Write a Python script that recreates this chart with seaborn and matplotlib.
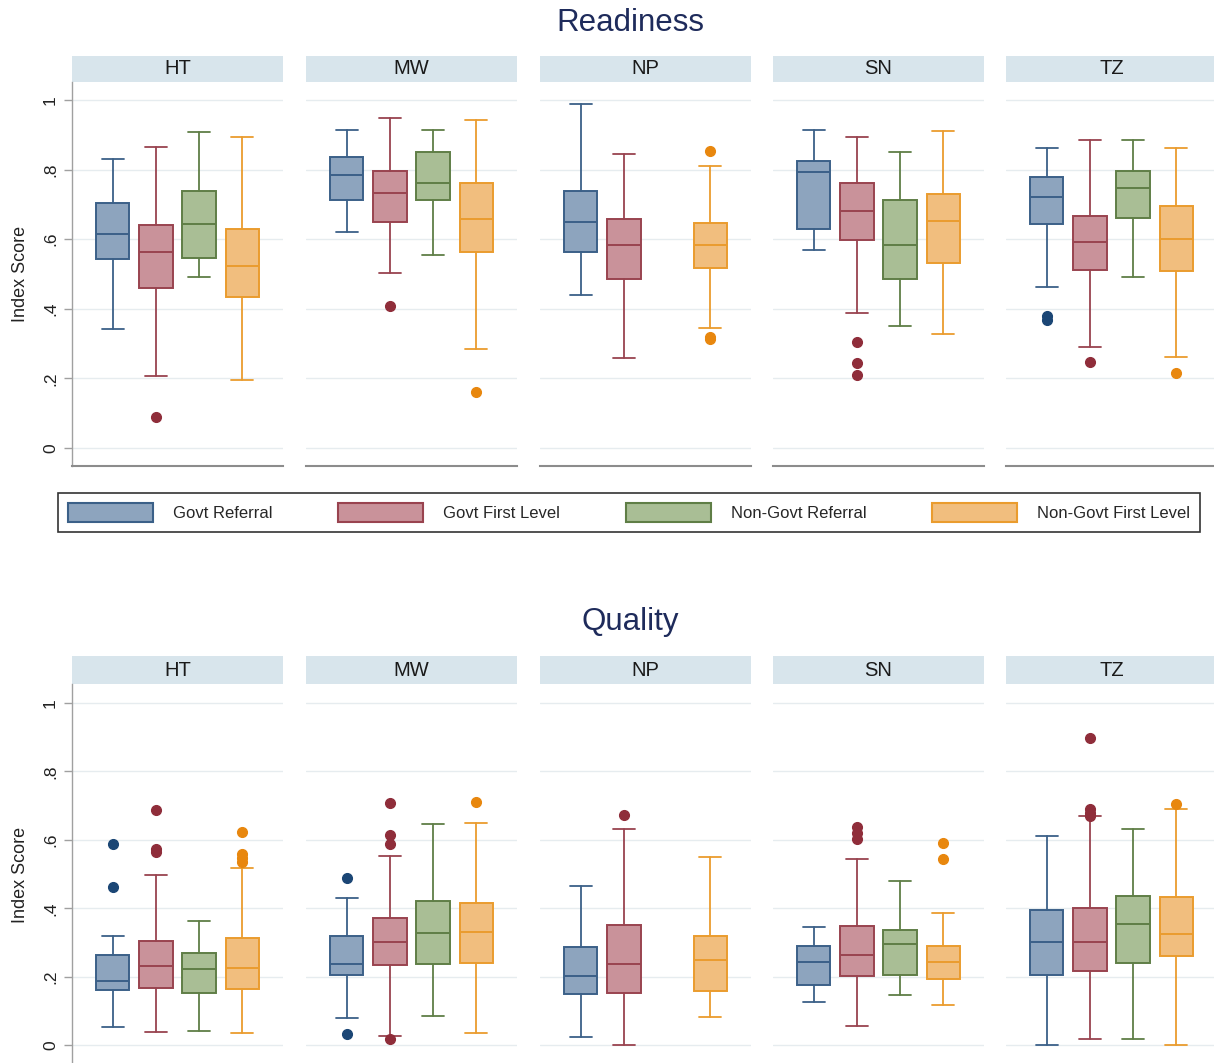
import matplotlib
matplotlib.use("Agg")
import matplotlib.pyplot as plt
import seaborn as sns
from matplotlib.patches import Rectangle, Patch

# ---------------------------------------------------------------- data
countries = ["HT", "MW", "NP", "SN", "TZ"]
groups = ["Govt Referral", "Govt First Level", "Non-Govt Referral", "Non-Govt First Level"]

# Readiness index: rows = countries, columns = facility groups (None = no facilities)
readiness_whislo = [[0.342, 0.208, 0.491, 0.194],
                    [0.622, 0.504, 0.555, 0.284],
                    [0.440, 0.258, None, 0.345],
                    [0.568, 0.388, 0.351, 0.327],
                    [0.462, 0.289, 0.492, 0.260]]
readiness_q1 = [[0.542, 0.461, 0.545, 0.434],
                [0.713, 0.649, 0.713, 0.564],
                [0.563, 0.487, None, 0.518],
                [0.629, 0.599, 0.485, 0.533],
                [0.644, 0.512, 0.662, 0.510]]
readiness_med = [[0.614, 0.562, 0.643, 0.523],
                 [0.786, 0.732, 0.761, 0.657],
                 [0.650, 0.583, None, 0.584],
                 [0.792, 0.682, 0.582, 0.653],
                 [0.722, 0.593, 0.748, 0.601]]
readiness_q3 = [[0.705, 0.640, 0.740, 0.628],
                [0.837, 0.796, 0.850, 0.761],
                [0.738, 0.659, None, 0.647],
                [0.824, 0.763, 0.713, 0.729],
                [0.779, 0.667, 0.796, 0.695]]
readiness_whishi = [[0.830, 0.865, 0.909, 0.895],
                    [0.913, 0.949, 0.913, 0.944],
                    [0.988, 0.845, None, 0.811],
                    [0.915, 0.895, 0.850, 0.911],
                    [0.861, 0.886, 0.884, 0.861]]
readiness_fliers = [[[], [0.090], [], []],
                    [[], [0.407], [], [0.162]],
                    [[], [], [], [0.853, 0.318, 0.312]],
                    [[], [0.304, 0.245, 0.211], [], []],
                    [[0.378, 0.367], [0.246], [], [0.214]]]

# Quality index
quality_whislo = [[0.054, 0.039, 0.042, 0.037],
                  [0.079, 0.027, 0.086, 0.036],
                  [0.025, 0.000, None, 0.082],
                  [0.127, 0.058, 0.146, 0.119],
                  [0.000, 0.020, 0.020, 0.000]]
quality_q1 = [[0.162, 0.169, 0.152, 0.165],
              [0.207, 0.234, 0.238, 0.241],
              [0.150, 0.154, None, 0.159],
              [0.177, 0.204, 0.207, 0.195],
              [0.207, 0.217, 0.241, 0.260]]
quality_med = [[0.187, 0.232, 0.222, 0.225],
               [0.237, 0.303, 0.327, 0.332],
               [0.202, 0.237, None, 0.249],
               [0.243, 0.263, 0.296, 0.243],
               [0.301, 0.303, 0.354, 0.325]]
quality_q3 = [[0.263, 0.304, 0.269, 0.314],
              [0.318, 0.371, 0.423, 0.417],
              [0.287, 0.351, None, 0.318],
              [0.289, 0.350, 0.337, 0.290],
              [0.396, 0.401, 0.436, 0.432]]
quality_whishi = [[0.320, 0.498, 0.362, 0.518],
                  [0.429, 0.553, 0.646, 0.649],
                  [0.466, 0.631, None, 0.550],
                  [0.345, 0.545, 0.480, 0.388],
                  [0.611, 0.669, 0.633, 0.689]]
quality_fliers = [[[0.587, 0.462], [0.686, 0.572, 0.565], [], [0.624, 0.560, 0.548, 0.536]],
                  [[0.488, 0.032], [0.709, 0.614, 0.589, 0.020], [], [0.712]],
                  [[], [0.672], [], []],
                  [[], [0.638, 0.621, 0.604], [], [0.590, 0.544]],
                  [[], [0.898, 0.689, 0.679, 0.670], [], [0.705]]]

yticks = [0, 0.2, 0.4, 0.6, 0.8, 1.0]
ytick_labels = ["0", ".2", ".4", ".6", ".8", "1"]

# ---------------------------------------------------------------- style
fill_colors = ["#8DA4BE", "#C9929A", "#A9BE95", "#F1BE7E"]
edge_colors = ["#3B6088", "#99434F", "#5F7E46", "#EA9C2E"]
dot_colors = ["#1B4675", "#8F2D3A", "#5F7E46", "#E8870E"]

sns.set_theme(style="white")
plt.rcParams['font.family'] = ['Liberation Sans', 'DejaVu Sans']

W, H = 1214, 1063
fig = plt.figure(figsize=(W / 100, H / 100), dpi=100)


def px_rect(x0, y0, x1, y1):
    return [x0 / W, 1 - y1 / H, (x1 - x0) / W, (y1 - y0) / H]


facet_left = [72, 306, 540, 773, 1006]
facet_w = 211


def draw_panel(title, title_y, strip_top, top, bottom, ylim,
               whislo, q1, med, q3, whishi, fliers):
    fig.text(630 / W, 1 - title_y / H, title, ha="center", va="center",
             fontsize=22.5, color="#1E2B5B")
    axh = bottom - top
    strip_h = top - strip_top
    for ci, country in enumerate(countries):
        x0 = facet_left[ci]
        ax = fig.add_axes(px_rect(x0, top, x0 + facet_w, bottom))
        for gi in range(len(groups)):
            if med[ci][gi] is None:
                continue
            st = [dict(med=med[ci][gi], q1=q1[ci][gi], q3=q3[ci][gi],
                       whislo=whislo[ci][gi], whishi=whishi[ci][gi],
                       fliers=fliers[ci][gi], label=groups[gi])]
            ec = edge_colors[gi]
            ax.bxp(st, positions=[gi + 1], widths=0.77, capwidths=0.5,
                   patch_artist=True, manage_ticks=False,
                   boxprops=dict(facecolor=fill_colors[gi], edgecolor=ec, linewidth=1.4),
                   whiskerprops=dict(color=ec, linewidth=1.3),
                   capprops=dict(color=ec, linewidth=1.3),
                   medianprops=dict(color=ec, linewidth=1.4),
                   flierprops=dict(marker="o", markersize=7, markerfacecolor=dot_colors[gi],
                                   markeredgecolor=dot_colors[gi]))
        ax.set_xlim(0.05, 4.95)
        ax.set_ylim(*ylim)
        ax.set_xticks([])
        ax.set_yticks(yticks)
        ax.yaxis.grid(True, color="#E6ECEF", linewidth=1.0)
        ax.set_axisbelow(True)
        for s in ("top", "right"):
            ax.spines[s].set_visible(False)
        ax.spines["bottom"].set_color("#8C8C8C")
        ax.spines["bottom"].set_linewidth(1.5)
        if ci == 0:
            ax.spines["left"].set_color("#A0A0A0")
            ax.spines["left"].set_linewidth(1.0)
            ax.set_yticklabels(ytick_labels, rotation=90, va="center")
            ax.tick_params(axis="y", left=True, direction="out", length=6, width=1,
                           color="#A0A0A0", labelsize=12.5, pad=4, labelcolor="#222222")
            ax.set_ylabel("Index Score", fontsize=13, labelpad=10, color="#222222")
        else:
            ax.spines["left"].set_visible(False)
            ax.tick_params(axis="y", left=False, labelleft=False)
        # facet header strip
        ax.add_patch(Rectangle((0, 1), 1, strip_h / axh, transform=ax.transAxes,
                               facecolor="#D8E5EC", edgecolor="none", clip_on=False))
        ax.text(0.5, 1 + strip_h / 2 / axh, country, transform=ax.transAxes,
                ha="center", va="center", fontsize=14.5, color="#1A1A1A")


draw_panel("Readiness", 23, 56, 82, 466, (-0.052, 1.052),
           readiness_whislo, readiness_q1, readiness_med, readiness_q3,
           readiness_whishi, readiness_fliers)
draw_panel("Quality", 622, 656, 684, 1066, (-0.06, 1.055),
           quality_whislo, quality_q1, quality_med, quality_q3,
           quality_whishi, quality_fliers)

handles = [Patch(facecolor=fill_colors[i], edgecolor=edge_colors[i], linewidth=1.5)
           for i in range(len(groups))]
leg = fig.legend(handles, groups, loc="center",
                 bbox_to_anchor=(58 / W, 1 - 535 / H, (1200 - 58) / W, 45 / H),
                 mode="expand", ncol=4, frameon=True, fancybox=False,
                 edgecolor="black", handlelength=5.1, handleheight=1.3,
                 handletextpad=1.2, fontsize=12, borderaxespad=0, borderpad=0.6)
leg.get_frame().set_linewidth(1.2)

fig.savefig("out.png", dpi=100, facecolor="white")
